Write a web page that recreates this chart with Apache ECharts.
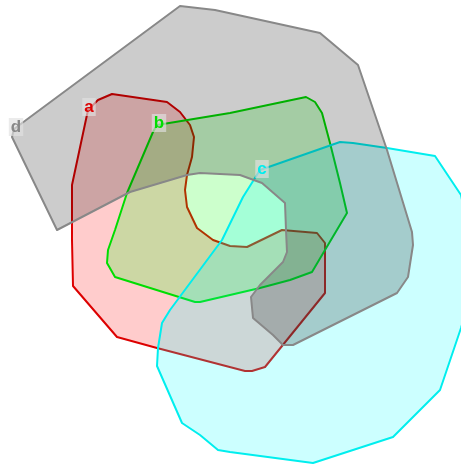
<!DOCTYPE html>
<html>
<head>
<meta charset="utf-8">
<script src="https://cdn.jsdelivr.net/npm/echarts@6/dist/echarts.min.js"></script>
<style>html,body{margin:0;padding:0;background:#fff;}#chart{width:461px;height:466px;}</style>
</head>
<body>
<div id="chart"></div>
<script>
// Set names
var setNames = ['a', 'b', 'c', 'd'];

// Polygon outlines (data coordinates, y downward)
var setA = [[88,110],[98,100],[112,94],[167,102],[180,112],[190,125],[194,137],[192,157],[187,175],[185,190],[187,207],[197,228],[213,240],[230,246],[247,247],[282,230],[317,233],[325,243],[325,293],[265,367],[252,371],[245,371],[157,348],[117,337],[73,286],[72,240],[72,185]];
var setB = [[157,125],[230,113],[306,97],[315,102],[322,113],[330,143],[340,183],[347,213],[325,250],[312,272],[290,280],[260,288],[200,302],[195,302],[115,277],[107,263],[108,250],[115,230],[127,193],[153,132]];
var setC = [[260,170],[340,142],[353,143],[387,148],[435,156],[461,195],[470,240],[472,290],[461,328],[440,390],[437,393],[393,437],[313,463],[230,452],[218,450],[200,435],[182,423],[157,366],[158,348],[162,323],[170,310],[222,240],[243,197]];
var setD = [[14,129],[180,6],[215,10],[320,33],[358,65],[387,150],[412,232],[413,245],[408,277],[397,293],[293,345],[283,345],[273,335],[253,318],[251,297],[260,285],[283,262],[287,252],[286,230],[285,203],[262,183],[240,175],[200,173],[187,175],[130,192],[57,230],[12,137]];

// Label anchor positions
var labelPos = [[89,107],[159,123],[262,169],[16,127]];

var polys = [setA, setB, setC, setD];
var strokeColors = ['#dd0000', '#00dd00', '#00eeee', '#888888'];
var fillColors = ['rgba(255,0,0,0.2)', 'rgba(0,255,0,0.2)', 'rgba(0,255,255,0.2)', 'rgba(0,0,0,0.2)'];

var chart = echarts.init(document.getElementById('chart'));

var series = polys.map(function (poly, i) {
  return {
    type: 'custom',
    name: setNames[i],
    coordinateSystem: 'cartesian2d',
    data: [[labelPos[i][0], labelPos[i][1]]],
    z: 2 + i,
    renderItem: function (params, api) {
      var pts = poly.map(function (p) { return api.coord(p); });
      return {
        type: 'polygon',
        shape: { points: pts },
        style: { fill: fillColors[i], stroke: strokeColors[i], lineWidth: 2, lineJoin: 'round' }
      };
    },
    silent: true
  };
});

series.push({
  type: 'custom',
  coordinateSystem: 'cartesian2d',
  data: labelPos.map(function (p, i) { return [p[0], p[1], i]; }),
  z: 10,
  renderItem: function (params, api) {
    var i = api.value(2);
    var c = api.coord([api.value(0), api.value(1)]);
    return {
      type: 'text',
      x: c[0],
      y: c[1],
      style: {
        text: setNames[i],
        fill: strokeColors[i],
        font: 'bold 17px "Liberation Sans", Arial, sans-serif',
        align: 'center',
        verticalAlign: 'middle',
        backgroundColor: 'rgba(225,225,225,0.65)',
        padding: [1, 2, 0, 2]
      }
    };
  },
  silent: true
});

chart.setOption({
  animation: false,
  grid: { left: 0, right: 0, top: 0, bottom: 0 },
  xAxis: { type: 'value', min: 0, max: 461, show: false },
  yAxis: { type: 'value', min: 0, max: 466, inverse: true, show: false },
  series: series
});
</script>
</body>
</html>
